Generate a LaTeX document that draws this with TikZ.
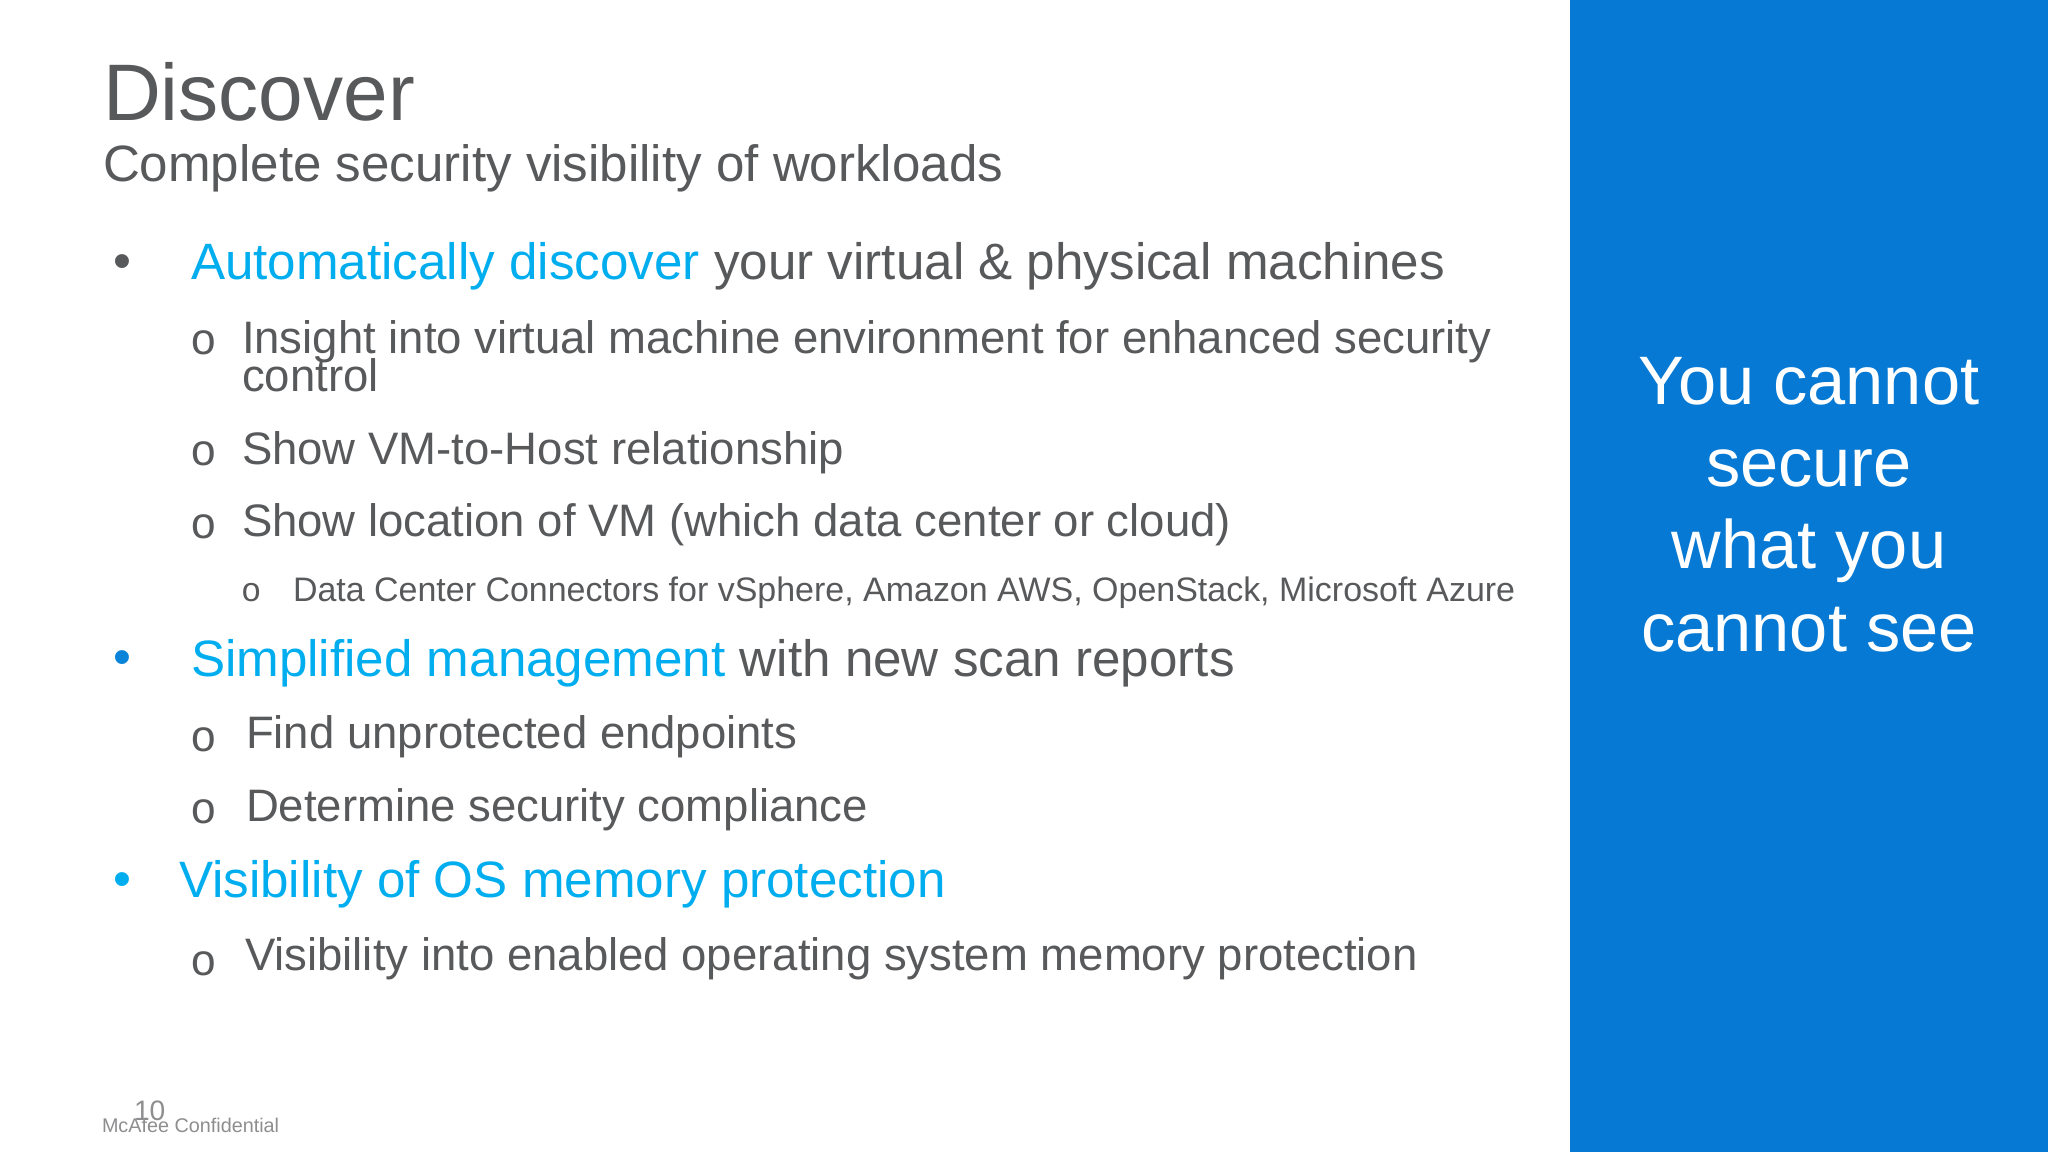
\documentclass[tikz,border=0pt]{standalone}
\usepackage{fontspec}
\setmainfont{Liberation Sans}
\newfontfamily\ringfont{Liberation Mono}
\usetikzlibrary{positioning}
\definecolor{panelblue}{HTML}{0579D3}
\definecolor{textgrey}{HTML}{58595B}
\definecolor{footgrey}{HTML}{8E8E90}
\definecolor{accent}{HTML}{00AEEF}
\definecolor{dotblue}{HTML}{0A84D8}
\tikzset{
    px/.style={inner sep=0pt,outer sep=0pt,anchor=base west,text=textgrey},
    title/.style={px,font=\fontsize{22.8}{24}\selectfont},
    subtitle/.style={px,font=\fontsize{14.53}{16}\selectfont},
    lvla/.style={px,font=\fontsize{14.55}{16}\selectfont},
    lvlb/.style={px,font=\fontsize{12.94}{14}\selectfont},
    lvlc/.style={px,font=\fontsize{9.66}{12}\selectfont},
    ringa/.style={px,font=\ringfont\fontsize{12.6}{14}\selectfont},
    ringb/.style={px,font=\ringfont\fontsize{9.6}{11}\selectfont},
    side/.style={inner sep=0pt,anchor=base,text=white,font=\fontsize{19.5}{21}\selectfont},
    foot/.style={px,text=footgrey,font=\fontsize{5.63}{7}\selectfont}
}
\begin{document}
\begin{tikzpicture}[x=0.01cm,y=-0.01cm]
\useasboundingbox (0,0) rectangle (2048,1152);
\fill[white] (0,0) rectangle (2048,1152);
\fill[panelblue] (1570,0) rectangle (2048,1152);
% heading
\node[title] (head) at (103,121) {Discover};
\node[subtitle] (sub) at (103,182) {Complete security visibility of workloads};
% first block
\node[lvla] (bulA) at (113,279) {•};
\node[lvla] (itemA) at (191,280) {\textcolor{accent}{Automatically discover} your virtual \& physical machines};
\node[ringa] (bulA1) at (190,355) {o};
\node[lvlb] (itemA1) at (242,354) {Insight into virtual machine environment for enhanced security};
\node[lvlb] (itemA1b) at (242,392) {control};
\node[ringa] (bulA2) at (190,466) {o};
\node[lvlb] (itemA2) at (242,465) {Show VM-to-Host relationship};
\node[ringa] (bulA3) at (190,538) {o};
\node[lvlb] (itemA3) at (242,537) {Show location of VM (which data center or cloud)};
\node[ringb] (bulA4) at (241,602) {o};
\node[lvlc] (itemA4) at (293,602) {Data Center Connectors for vSphere, Amazon AWS, OpenStack, Microsoft Azure};
% second block
\node[lvla,text=dotblue] (bulB) at (113,674) {•};
\node[lvla] (itemB) at (191,676) {\textcolor{accent}{Simplified management} with new scan reports};
\node[ringa] (bulB1) at (190,751) {o};
\node[lvlb] (itemB1) at (246,748) {Find unprotected endpoints};
\node[ringa] (bulB2) at (190,823) {o};
\node[lvlb] (itemB2) at (246,821) {Determine security compliance};
% third block
\node[lvla,text=accent] (bulC) at (113,896) {•};
\node[lvla,text=accent] (itemC) at (179,897) {Visibility of OS memory protection};
\node[ringa] (bulC1) at (190,975) {o};
\node[lvlb] (itemC1) at (245,970) {Visibility into enabled operating system memory protection};
% side panel
\node[side] (sideA) at (1809,405) {You cannot};
\node[side] (sideB) at (1809,487) {secure};
\node[side] (sideC) at (1809,569) {what you};
\node[side] (sideD) at (1809,651) {cannot see};
% footer
\node[foot] (conf) at (102,1132) {McAfee Confidential};
\node[px,text=footgrey,font=\fontsize{8}{9}\selectfont] (page) at (134,1120) {10};
\end{tikzpicture}
\end{document}
